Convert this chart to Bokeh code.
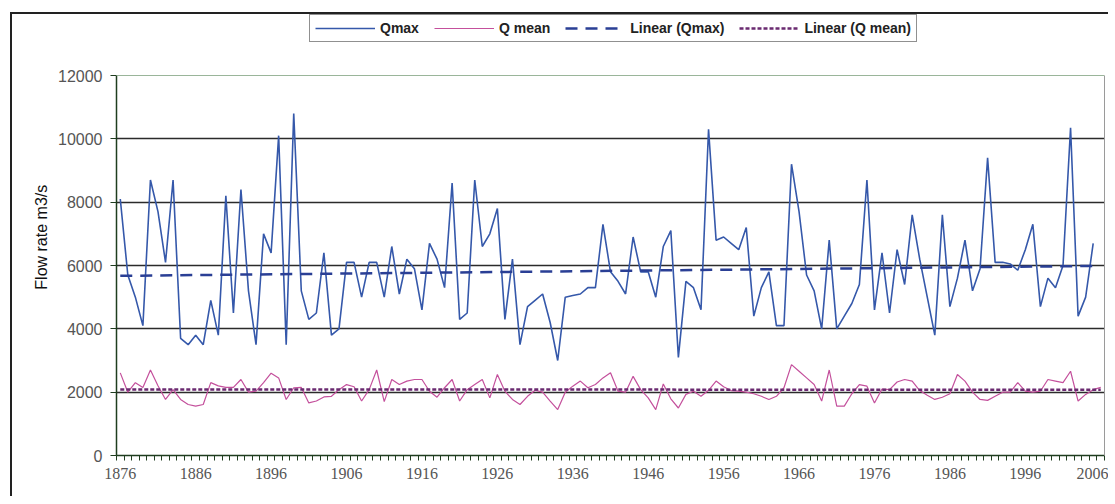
import numpy as np
from bokeh.plotting import figure
from bokeh.layouts import column, row
from bokeh.models import (Range1d, FixedTicker, Legend, LegendItem, Span, LinearAxis,
                          Spacer, Title)
from bokeh.embed import file_html
from bokeh.resources import INLINE

years = list(range(1876, 2007))

qmax = [8100, 5700, 5000, 4100, 8700, 7700, 6100, 8700, 3700, 3500,
        3800, 3500, 4900, 3800, 8200, 4500, 8400, 5200, 3500, 7000,
        6400, 10100, 3500, 10800, 5200, 4300, 4500, 6400, 3800, 4000,
        6100, 6100, 5000, 6100, 6100, 5000, 6600, 5100, 6200, 5900,
        4600, 6700, 6200, 5300, 8600, 4300, 4500, 8700, 6600, 7000,
        7800, 4300, 6200, 3500, 4700, 4900, 5100, 4200, 3000, 5000,
        5050, 5100, 5300, 5300, 7300, 5800, 5500, 5100, 6900, 5800,
        5800, 5000, 6600, 7100, 3100, 5500, 5300, 4600, 10300, 6800,
        6900, 6700, 6500, 7200, 4400, 5300, 5800, 4100, 4100, 9200,
        7700, 5700, 5200, 4000, 6800, 4000, 4400, 4800, 5400, 8700,
        4600, 6400, 4500, 6500, 5400, 7600, 6200, 5000, 3800, 7600,
        4700, 5600, 6800, 5200, 5900, 9400, 6100, 6100, 6050, 5850,
        6500, 7300, 4700, 5600, 5300, 6000, 10350, 4400, 5000, 6700]

qmean = [2610, 2000, 2300, 2150, 2700, 2200, 1770, 2080, 1770, 1610,
         1560, 1610, 2300, 2200, 2150, 2150, 2400, 2000, 2030, 2300,
         2600, 2450, 1770, 2140, 2150, 1660, 1720, 1850, 1870, 2080,
         2240, 2170, 1720, 2080, 2700, 1700, 2400, 2240, 2350, 2400,
         2400, 2030, 1840, 2140, 2400, 1720, 2080, 2240, 2400, 1820,
         2560, 2030, 1770, 1610, 1870, 2060, 2000, 1720, 1450, 2000,
         2190, 2350, 2140, 2240, 2450, 2610, 2030, 2000, 2500, 2080,
         1820, 1450, 2260, 1790, 1500, 1930, 2030, 1870, 2060, 2350,
         2170, 2050, 2030, 2000, 1950, 1870, 1770, 1870, 2140, 2870,
         2660, 2450, 2240, 1720, 2700, 1560, 1560, 1950, 2240, 2190,
         1660, 2100, 2080, 2320, 2400, 2350, 2050, 1900, 1770, 1840,
         1950, 2560, 2350, 2000, 1770, 1740, 1870, 2000, 2000, 2300,
         2030, 2000, 2030, 2400, 2350, 2300, 2660, 1720, 1930, 2080, 2150]

x_labels = list(range(1876, 2007, 10))
y_ticks = [0, 2000, 4000, 6000, 8000, 10000, 12000]
y_max = 12000

FONT = "Liberation Sans"
NARROW = "Liberation Sans Narrow"

# geometry (page pixels)
W, H = 1098, 484
canvas_x, canvas_y = 13, 15
frame_left, frame_right, frame_bottom, frame_top, v_top_px = 117, 1105, 456, 15, 76
range_top = y_max * (frame_bottom - frame_top) / (frame_bottom - v_top_px)

p = figure(width=W, height=H, output_backend="svg", toolbar_location=None,
           x_range=Range1d(1875.5, 2006.5), y_range=Range1d(0, range_top),
           min_border_left=frame_left - canvas_x,
           min_border_top=frame_top - canvas_y,
           min_border_right=W - (frame_right - canvas_x),
           min_border_bottom=H - (frame_bottom - canvas_y))
p.styles = {"border-left": "2px solid #222", "border-top": "2px solid #222"}
p.background_fill_color = "white"
p.border_fill_color = "white"
p.outline_line_color = None

p.xgrid.visible = False
p.ygrid.ticker = FixedTicker(ticks=y_ticks[1:-1])
p.ygrid.grid_line_color = "#2b2b2b"
p.ygrid.grid_line_width = 1.5

# top border of plot area at 12000
p.add_layout(Span(location=y_max, dimension="width", line_color="#9ab59a", line_width=1))
# right border of plot area
rax = LinearAxis(bounds=(0, y_max), ticker=FixedTicker(ticks=[]),
                 axis_line_color="#9a9a9a", axis_line_width=1,
                 major_tick_line_color=None, minor_tick_line_color=None,
                 major_label_text_font_size="0px")
p.add_layout(rax, "right")

ya = p.yaxis[0]
ya.bounds = (0, y_max)
ya.ticker = FixedTicker(ticks=y_ticks)
ya.axis_line_color = "#1f3d1f"
ya.axis_line_width = 1.5
ya.major_tick_line_color = "#1f3d1f"
ya.major_tick_out = 6
ya.major_tick_in = 0
ya.minor_tick_line_color = None
ya.major_label_standoff = 8
ya.major_label_text_font = FONT
ya.major_label_text_font_size = "16px"
ya.major_label_text_color = "#555555"

ytitle = Title(text="Flow rate  m3/s", text_font=FONT, text_font_size="16px",
               text_font_style="normal", text_color="#111111", align="center",
               standoff=12)
p.add_layout(ytitle, "left")

p.xaxis.ticker = FixedTicker(ticks=x_labels,
                             minor_ticks=[y - 0.5 for y in range(1876, 2008)])
p.xaxis.axis_line_color = "#1f3d1f"
p.xaxis.axis_line_width = 1.5
p.xaxis.major_tick_out = 0
p.xaxis.major_tick_in = 0
p.xaxis.minor_tick_out = 5
p.xaxis.minor_tick_in = 0
p.xaxis.minor_tick_line_color = "#1f3d1f"
p.xaxis.major_label_standoff = 7
p.xaxis.major_label_text_font = NARROW
p.xaxis.major_label_text_font_size = "16px"
p.xaxis.major_label_text_color = "#555555"

yrs_max = years[:len(qmax)]
r1 = p.line(yrs_max, qmax, line_color="#3558aa", line_width=1.6)
r2 = p.line(years, qmean, line_color="#c4509c", line_width=1.2)

c1 = np.polyfit(yrs_max, qmax, 1)
c2 = np.polyfit(years, qmean, 1)
t1 = p.line([yrs_max[0], yrs_max[-1]], list(np.polyval(c1, [yrs_max[0], yrs_max[-1]])),
            line_color="#2a3f95", line_width=2.5, line_dash="12 8")
t2 = p.line([years[0], years[-1]], list(np.polyval(c2, [years[0], years[-1]])),
            line_color="#6a2a70", line_width=2.5, line_dash="4 2")

legend = Legend(items=[LegendItem(label="Qmax", renderers=[r1]),
                       LegendItem(label="Q mean", renderers=[r2]),
                       LegendItem(label="Linear (Qmax)", renderers=[t1]),
                       LegendItem(label="Linear (Q mean)", renderers=[t2])],
                orientation="horizontal",
                location=(310 - frame_left, frame_bottom - 43),
                border_line_color="#222222", border_line_width=1.5,
                label_text_font=FONT, label_text_font_size="14px",
                label_text_font_style="bold", label_text_color="#222222",
                glyph_width=60, glyph_height=10, label_standoff=5,
                spacing=15, padding=5, margin=0, background_fill_alpha=1)
p.add_layout(legend)

root = column(Spacer(height=12, width=1), row(Spacer(width=10, height=1), p))
open("out.html", "w").write(file_html(root, INLINE))
